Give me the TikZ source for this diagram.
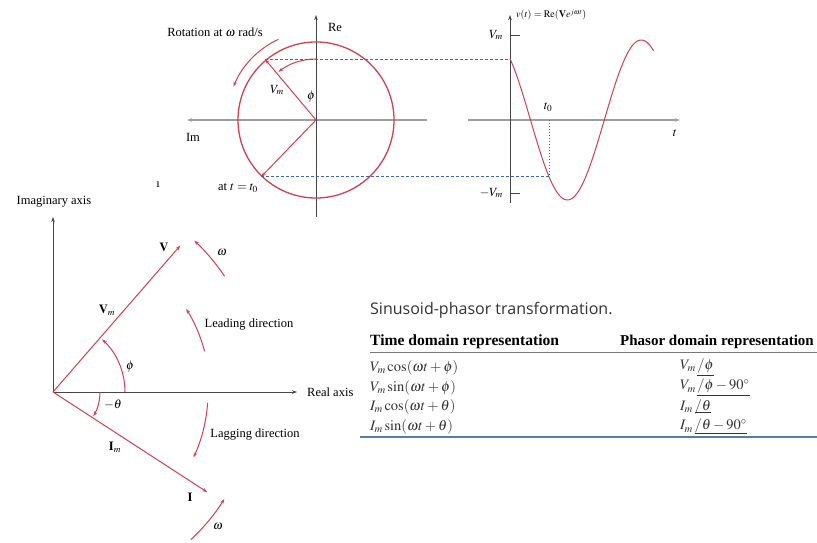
\documentclass[tikz,border=0pt]{standalone}
\usepackage{mathptmx}
\usepackage{fontspec}
\setmainfont{Liberation Serif}
\newfontfamily\titlefont{Open Sans}
\usetikzlibrary{arrows.meta}
\definecolor{phasorred}{RGB}{206,64,82}
\definecolor{axisgray}{RGB}{70,70,70}
\definecolor{guideblue}{RGB}{60,105,170}
\definecolor{rulegray}{RGB}{120,120,120}
\definecolor{ruleblue}{RGB}{85,125,175}
\newcommand{\phang}[1]{\underline{\smash{/}#1}}
\tikzset{
  arrow/.style={-{Stealth[length=5pt,width=3.5pt]}},
  lbl/.style={inner sep=1pt, font=\fontsize{12.5}{14}\selectfont}}

\begin{document}
\begin{tikzpicture}[
		x=1pt, y=1pt,
		axis/.style={draw=axisgray, line width=0.8pt},
		flataxis/.style={draw=gray!75, line width=1.4pt},
		phasor/.style={draw=phasorred, line width=1pt},
		guide/.style={draw=guideblue, dash pattern=on 3pt off 2pt, line width=0.7pt},
		head/.style={font=\bfseries\fontsize{15.6}{18}\selectfont, inner sep=0pt, anchor=west},
		cell/.style={font=\fontsize{14.5}{17}\selectfont, inner sep=0pt, anchor=west, text=black!80}
		]
		\useasboundingbox (0,0) rectangle (817,543);
		
		% rotating phasor
		\coordinate (C) at (316,423);
		\coordinate (reBot) at (316,326);
		\coordinate (reTop) at (316,528);
		\coordinate (imR) at (427,423);
		\coordinate (imL) at (187,423);
		\coordinate (vTip) at ([shift={(130:79)}]C);
		\coordinate (vLow) at ([shift={(226:79)}]C);
		
		\draw[flataxis, arrow] (imR) -- (imL);
		\draw[axis, arrow] (reBot) -- (reTop);
		\draw[phasor, line width=1.3pt] (C) circle[radius=78];
		\draw[phasor, arrow] (C) -- (vTip);
		\draw[phasor, arrow] (C) -- (vLow);
		\draw[phasor, arrow] ([shift={(90:61)}]C) arc[start angle=90, end angle=128, radius=61];
		\draw[phasor, arrow] ([shift={(115:89)}]C) arc[start angle=115, end angle=158, radius=89];
		
		\node[lbl] (rot) at (215,511) {Rotation at $\omega$ rad/s};
		\node[lbl] (re) at (335,516) {Re};
		\node[lbl] (im) at (193,406) {Im};
		\node[lbl] (vm) at (277,453) {$V_m$};
		\node[lbl] (phi) at (311,446) {$\phi$};
		\node[lbl] (at) at (238,355) {at $t=t_0$};
		\node[lbl] (mark) at (158,358) {\i};
		
		% time waveform
		\coordinate (O) at (510,423);
		\coordinate (tBeg) at (468,423);
		\coordinate (tEnd) at (680,423);
		\coordinate (vBot) at (510,340);
		\coordinate (vTop) at (510,528);
		\coordinate (maxTick) at (510,508);
		\coordinate (minTick) at (510,350);
		\coordinate (tz) at ({510+95*0.41}, {423+80*cos(135)});
		
		\draw[flataxis, arrow] (tBeg) -- (tEnd);
		\draw[axis, arrow] (vBot) -- (vTop);
		\draw[axis] (maxTick) -- ++(10,0);
		\draw[axis] (minTick) -- ++(10,0);
		\draw[phasor] plot[domain=40:390, samples=100, smooth] ({510+(\x-40)*0.41}, {423+80*cos(\x)});
		
		\draw[guide] (vTip) -- (vTip -| O);
		\draw[guide] (vLow) -- (vLow -| tz);
		\draw[guide, dash pattern=on 1.5pt off 1.5pt] (tz |- O) -- (tz);
		
		\node[lbl, anchor=west, font=\fontsize{10}{12}\selectfont] (vt) at (515,528) {$v(t)=\mathrm{Re}(\mathbf{V}e^{j\omega t})$};
		\node[lbl, anchor=east] (vmax) at (504,508) {$V_m$};
		\node[lbl, anchor=east] (vmin) at (504,350) {$-V_m$};
		\node[lbl] (tzl) at (548,436) {$t_0$};
		\node[lbl] (tl) at (675,410) {$t$};
		
		% phasor diagram
		\coordinate (O3) at (53,151);
		\coordinate (imagTop) at (53,326);
		\coordinate (realEnd) at (297,151);
		\coordinate (V) at ([shift={(49:194)}]O3);
		\coordinate (I) at ([shift={(-33:184)}]O3);
		
		\draw[axis, arrow] (O3) -- (imagTop);
		\draw[axis, arrow] (O3) -- (realEnd);
		\draw[phasor, arrow] (O3) -- (V);
		\draw[phasor, arrow] (O3) -- (I);
		\draw[phasor, arrow] ([shift={(0:72)}]O3) arc[start angle=0, end angle=47, radius=72];
		\draw[phasor, arrow] ([shift={(0:47)}]O3) arc[start angle=0, end angle=-31, radius=47];
		\draw[phasor, arrow] ([shift={(34:207)}]O3) arc[start angle=34, end angle=47, radius=207];
		\draw[phasor, arrow] ([shift={(15:157)}]O3) arc[start angle=15, end angle=32, radius=157];
		\draw[phasor, arrow] ([shift={(-4:155)}]O3) arc[start angle=-4, end angle=-25, radius=155];
		\draw[phasor, arrow] ([shift={(-47:202)}]O3) arc[start angle=-47, end angle=-32, radius=202];
		
		\node[lbl] (imagax) at (54,341) {Imaginary axis};
		\node[lbl, anchor=west] (realax) at (306,151) {Real axis};
		\node[lbl] (vl) at (164,296) {$\mathbf{V}$};
		\node[lbl] (vml) at (107,233) {$\mathbf{V}_m$};
		\node[lbl] (phil) at (130,176) {$\phi$};
		\node[lbl] (il) at (190,46) {$\mathbf{I}$};
		\node[lbl] (iml) at (115,96) {$\mathbf{I}_m$};
		\node[lbl] (thl) at (113,138) {$-\theta$};
		\node[lbl] (w1) at (222,290) {$\omega$};
		\node[lbl] (w2) at (218,16) {$\omega$};
		\node[lbl] (lead) at (249,218) {Leading direction};
		\node[lbl] (lag) at (255,108) {Lagging direction};
		
		% table
		\node[anchor=west, inner sep=0pt, font=\titlefont\fontsize{16}{19}\selectfont, text=black!80] (ttl) at (370,233) {Sinusoid-phasor transformation.};
		\node[head] (h1) at (370,201) {Time domain representation};
		\node[head, font=\bfseries\fontsize{15}{18}\selectfont] (h2) at (620,201) {Phasor domain representation};
		\coordinate (ruleL) at (370,191);
		\coordinate (ruleR) at (817,191);
		\draw[rulegray, double, double distance=1pt, line width=0.6pt] (ruleL) -- (ruleR);
		
		\node[cell] (t1) at (370,175) {$V_m\cos(\omega t+\phi)$};
		\node[cell] (t2) at (370,155) {$V_m\sin(\omega t+\phi)$};
		\node[cell] (t3) at (370,136) {$I_m\cos(\omega t+\theta)$};
		\node[cell] (t4) at (370,116) {$I_m\sin(\omega t+\theta)$};
		\node[cell] (p1) at (680,175) {$V_m\,\phang{\phi}$};
		\node[cell] (p2) at (680,155) {$V_m\,\phang{\phi-90^\circ}$};
		\node[cell] (p3) at (680,136) {$I_m\,\phang{\theta}$};
		\node[cell] (p4) at (680,116) {$I_m\,\phang{\theta-90^\circ}$};
		
		\coordinate (botL) at (360,106);
		\coordinate (botR) at (817,106);
		\draw[ruleblue, line width=2.5pt] (botL) -- (botR);
		
	\end{tikzpicture}
\end{document}
